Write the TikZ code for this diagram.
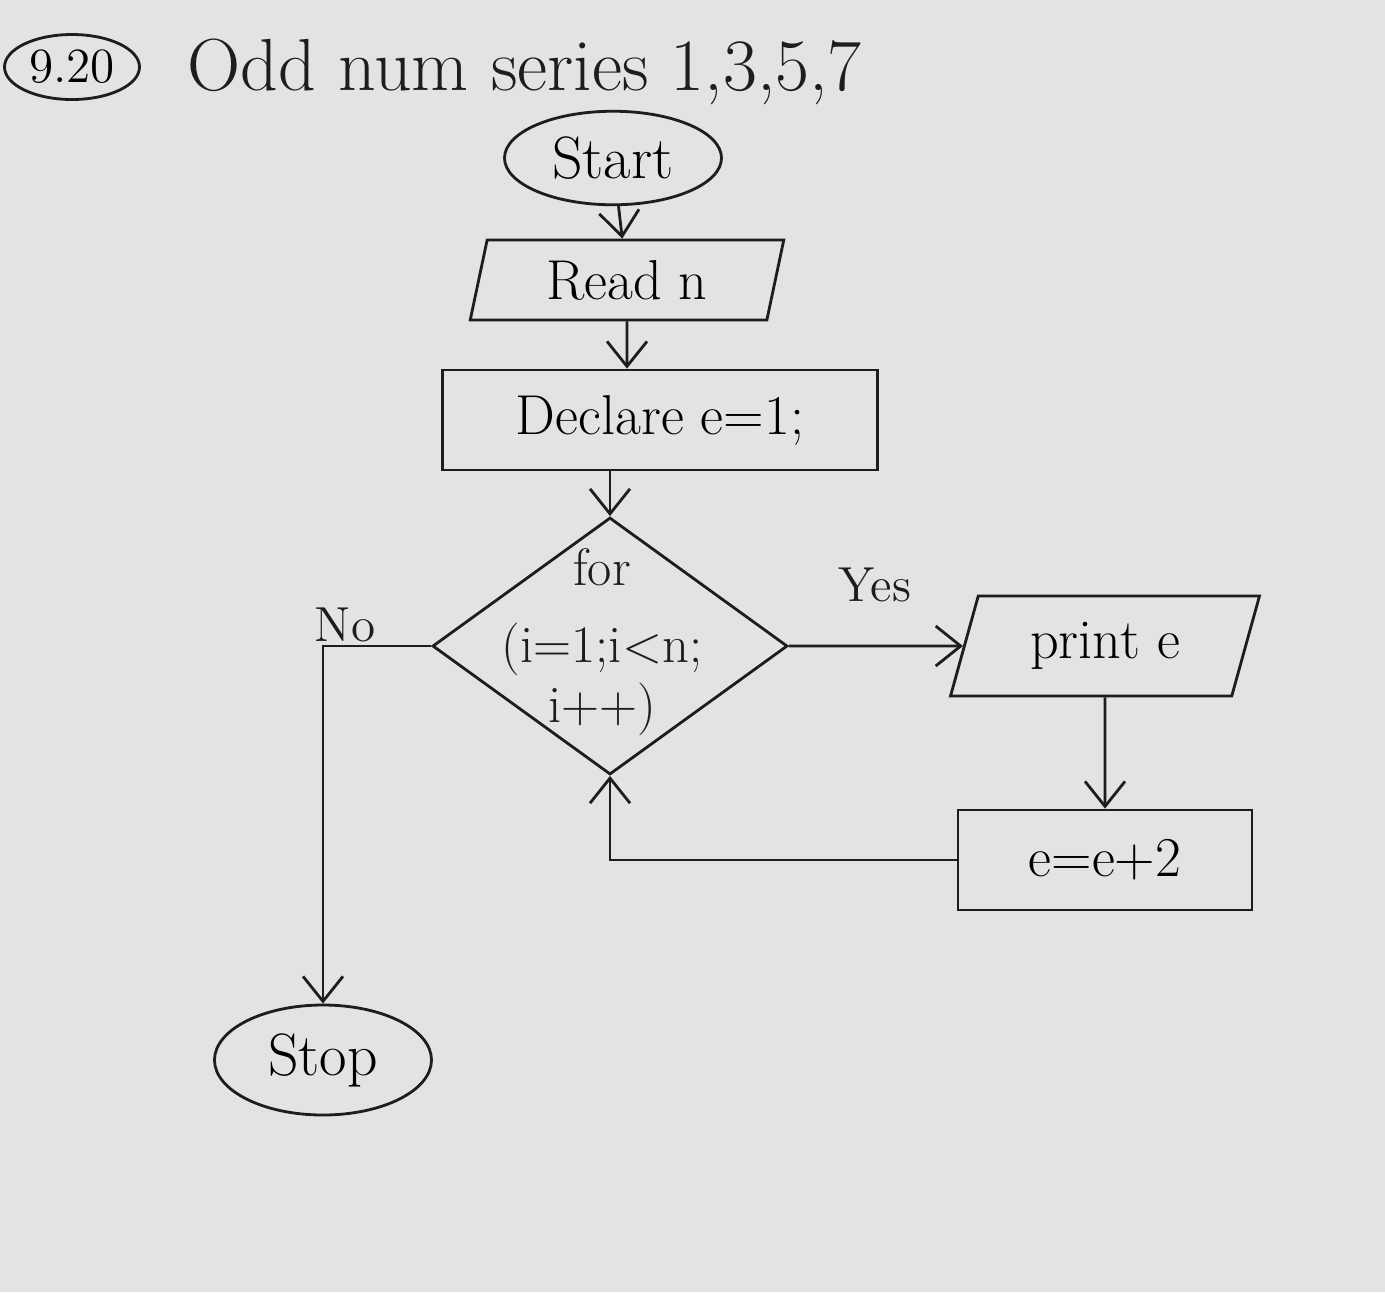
\documentclass[tikz,border=0pt]{standalone}
\usepackage{xcolor}
\definecolor{Paper}{RGB}{226,228,225}
\definecolor{Ink}{RGB}{30,28,28}
\usepackage{tikz}
\usetikzlibrary{shapes.geometric}
\usetikzlibrary{arrows.meta}
\tikzstyle{Term}=[ellipse,draw=Ink,thick,minimum width=2.17cm,
minimum height=0.75cm,font=\fontsize{17}{19}\selectfont]
\tikzstyle{InOut}=[trapezium,trapezium stretches=true,draw=Ink,thick,
font=\fontsize{16}{18}\selectfont]
\tikzstyle{Proc}=[rectangle,draw=Ink,thick,font=\fontsize{16}{18}\selectfont]
\tikzstyle{Cond}=[diamond,draw=Ink,thick,inner sep=0pt]
\tikzstyle{CondTxt}=[align=center,inner sep=0pt,text=Ink,font=\fontsize{15}{17}\selectfont]
\tikzstyle{Edge}=[draw=Ink,thick,-{Straight Barb[length=2.5mm,width=4mm]}]
\tikzstyle{NodeLbl}=[font=\fontsize{14}{16}\selectfont,text=Ink]

\begin{document}
\begin{tikzpicture}
        \useasboundingbox[fill=Paper](0,0)rectangle(13.85,-12.92);
        \node[ellipse,draw=Ink,thick,minimum width=1.35cm,minimum height=0.65cm,
            inner sep=1pt,font=\fontsize{14}{16}\selectfont](num)at(0.72,-0.67){9.20};
        \node[anchor=west,font=\fontsize{21}{23}\selectfont,text=Ink](title)
            at(1.75,-0.72){Odd num series 1,3,5,7};
        \node[Term](start)at(6.13,-1.58){Start};
        \node[InOut,trapezium left angle=80,trapezium right angle=100,
            minimum width=3.15cm,minimum height=0.8cm](read)at(6.27,-2.80){Read n};
        \node[Proc,minimum width=4.35cm,minimum height=1.0cm](decl)at(6.60,-4.20){Declare e=1;};
        \node[Cond,minimum width=3.55cm,minimum height=2.57cm](loop)at(6.10,-6.46){};
        \node[CondTxt](looptxt)at(6.02,-6.42){for\\[5pt](i=1;i<n;\\i++)};
        \node[InOut,trapezium left angle=75,trapezium right angle=105,
            minimum width=3.1cm,minimum height=1.0cm](print)at(11.05,-6.46){print e};
        \node[Proc,minimum width=2.94cm,minimum height=1.0cm](inc)at(11.05,-8.60){e=e+2};
        \node[Term,minimum height=1.1cm](stop)at(3.23,-10.60){Stop};
        \node[NodeLbl](no)at(3.45,-6.25){No};
        \node[NodeLbl](yes)at(8.75,-5.85){Yes};
        \draw[Edge](start)--(read);
        \draw[Edge](read)--(read|-decl.north);
        \draw[Edge](decl.south-|loop.north)--(loop.north);
        \draw[Edge](loop.east)--(print.west);
        \draw[Edge](print)--(inc);
        \draw[Edge](inc.west)-|(loop.south);
        \draw[Edge](loop.west)-|(stop.north);
    \end{tikzpicture}
\end{document}
